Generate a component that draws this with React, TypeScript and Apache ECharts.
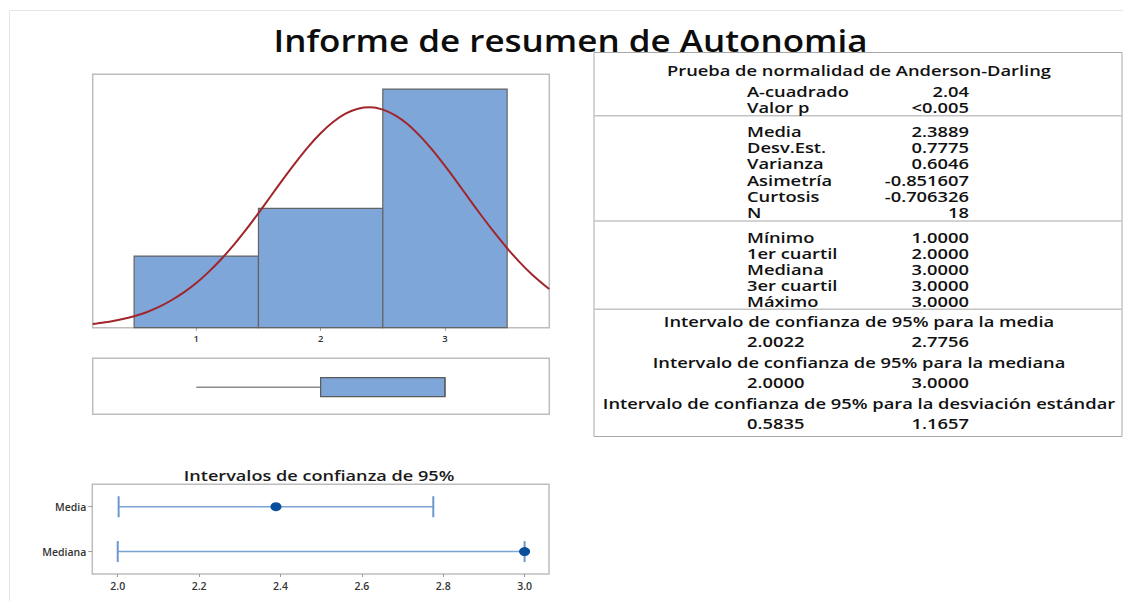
import React, { useEffect, useRef } from 'react';
import * as echarts from 'echarts';

// ---------- data ----------
const binStart = [0.5, 1.5, 2.5];
const binEnd = [1.5, 2.5, 3.5];
const binCount = [3, 5, 10];
const histTicks = [1, 2, 3];

// fitted normal curve
const curveX = [
  0.167, 0.2, 0.3, 0.4, 0.5, 0.6, 0.7, 0.8, 0.9, 1.0, 1.1, 1.2, 1.3, 1.4, 1.5, 1.6, 1.7, 1.8, 1.9, 2.0,
  2.1, 2.2, 2.3, 2.4, 2.5, 2.6, 2.7, 2.8, 2.9, 3.0, 3.1, 3.2, 3.3, 3.4, 3.5, 3.6, 3.7, 3.8, 3.839,
];
const curveY = [
  0.155, 0.176, 0.25, 0.35, 0.48, 0.65, 0.87, 1.15, 1.48, 1.87, 2.34, 2.87, 3.46, 4.11, 4.8, 5.52, 6.24, 6.93, 7.58, 8.15,
  8.62, 8.97, 9.18, 9.24, 9.14, 8.9, 8.53, 8.03, 7.44, 6.78, 6.08, 5.36, 4.65, 3.97, 3.33, 2.75, 2.23, 1.78, 1.62,
];

// box plot: min, Q1, median, Q3, max
const boxStats = [1, 2, 3, 3, 3];

// confidence intervals
const ciNames = ['Media', 'Mediana'];
const ciLow = [2.0022, 2.0];
const ciHigh = [2.7756, 3.0];
const ciEst = [2.3889, 3.0];
const ciTicks = [2.0, 2.2, 2.4, 2.6, 2.8, 3.0];

// summary table
const adTitle = 'Prueba de normalidad de Anderson-Darling';
const adLabels = ['A-cuadrado', 'Valor p'];
const adValues = ['2.04', '<0.005'];
const descLabels = ['Media', 'Desv.Est.', 'Varianza', 'Asimetría', 'Curtosis', 'N'];
const descValues = ['2.3889', '0.7775', '0.6046', '-0.851607', '-0.706326', '18'];
const quantLabels = ['Mínimo', '1er cuartil', 'Mediana', '3er cuartil', 'Máximo'];
const quantValues = ['1.0000', '2.0000', '3.0000', '3.0000', '3.0000'];
const ciTitles = [
  'Intervalo de confianza de 95% para la media',
  'Intervalo de confianza de 95% para la mediana',
  'Intervalo de confianza de 95% para la desviación estándar',
];
const ciLowText = ['2.0022', '2.0000', '0.5835'];
const ciHighText = ['2.7756', '3.0000', '1.1657'];

const mainTitle = 'Informe de resumen de Autonomia';
const ciChartTitle = 'Intervalos de confianza de 95%';

// ---------- styles ----------
const FONT = '"Open Sans", "Noto Sans", sans-serif';
const BAR_FILL = '#7ea6d8';
const BAR_STROKE = '#646464';
const CURVE = '#a1262b';
const FRAME = '#bdbdbd';
const CI_LINE = '#7aa3d6';
const CI_DOT = '#0a4f9c';
const TXT = '#111111';

function txt(x: number, y: number, text: string, align: string, size: number, sx: number, weight: any = 600, fill = TXT): any {
  return {
    type: 'text',
    x,
    y,
    scaleX: sx,
    silent: true,
    style: {
      text,
      x: 0,
      y: 0,
      fontSize: size,
      fontFamily: FONT,
      fontWeight: weight,
      fill,
      align,
      textAlign: align,
      verticalAlign: 'middle',
      textVerticalAlign: 'middle',
    },
  };
}

function buildGraphic(): any[] {
  const els: any[] = [];
  // faint outer frame
  els.push({ type: 'line', silent: true, shape: { x1: 9.5, y1: 10.5, x2: 1123, y2: 10.5 }, style: { stroke: '#e6e6e6', lineWidth: 1 } });
  els.push({ type: 'line', silent: true, shape: { x1: 9.5, y1: 10.5, x2: 9.5, y2: 601 }, style: { stroke: '#e6e6e6', lineWidth: 1 } });

  // main title
  els.push(txt(570.5, 40, mainTitle, 'center', 31, 1.13, 600, '#0d0d0d'));
  // CI chart title
  els.push(txt(319, 475, ciChartTitle, 'center', 15, 1.21, 600, '#1a1a1a'));

  // table frame
  const tL = 594, tR = 1122, tT = 52.5, tB = 436.5;
  els.push({ type: 'rect', silent: true, shape: { x: tL, y: tT, width: tR - tL, height: tB - tT }, style: { fill: 'none', stroke: '#a9a9a9', lineWidth: 1 } });
  [115.7, 221, 309.3].forEach((y) => {
    els.push({ type: 'line', silent: true, shape: { x1: tL, y1: y, x2: tR, y2: y }, style: { stroke: '#c4c4c4', lineWidth: 1.5 } });
  });

  const LX = 747, VX = 969, CX = 859, SX = 1.31, FS = 14;
  els.push(txt(CX, 71, adTitle, 'center', FS, SX));
  adLabels.forEach((l, i) => {
    els.push(txt(LX, 91.5 + i * 16, l, 'left', FS, SX));
    els.push(txt(VX, 91.5 + i * 16, adValues[i], 'right', FS, SX));
  });
  descLabels.forEach((l, i) => {
    els.push(txt(LX, 131.5 + i * 16.3, l, 'left', FS, SX));
    els.push(txt(VX, 131.5 + i * 16.3, descValues[i], 'right', FS, SX));
  });
  quantLabels.forEach((l, i) => {
    els.push(txt(LX, 237.5 + i * 16, l, 'left', FS, SX));
    els.push(txt(VX, 237.5 + i * 16, quantValues[i], 'right', FS, SX));
  });
  ciTitles.forEach((t, i) => {
    els.push(txt(CX, 322 + i * 41, t, 'center', FS, SX));
    els.push(txt(LX, 341.5 + i * 41, ciLowText[i], 'left', FS, SX));
    els.push(txt(VX, 341.5 + i * 41, ciHighText[i], 'right', FS, SX));
  });
  return els;
}

function buildOption(): any {
  const histData = binStart.map((s, i) => [s, binEnd[i], binCount[i]]);
  const curveData = curveX.map((x, i) => [x, curveY[i]]);
  const ciCats = ciNames.slice().reverse();
  const ciData = ciNames.map((n, i) => [ciLow[i], ciHigh[i], n]);
  const estData = ciNames.map((n, i) => [ciEst[i], n]);

  const gridBase = { show: true, borderColor: FRAME, borderWidth: 1.5, backgroundColor: 'transparent', containLabel: false };

  return {
    animation: false,
    backgroundColor: '#ffffff',
    textStyle: { fontFamily: FONT },
    grid: [
      { ...gridBase, left: 92.7, top: 74.3, width: 456.6, height: 253.4 },
      { ...gridBase, left: 92.7, top: 358.3, width: 456.6, height: 56 },
      { ...gridBase, left: 92.3, top: 484.3, width: 456.7, height: 89.7 },
    ],
    xAxis: [
      {
        type: 'value', gridIndex: 0, min: 0.167, max: 3.839,
        axisLine: { show: false }, splitLine: { show: false },
        axisTick: { show: true, customValues: histTicks, length: 3, lineStyle: { color: '#9a9a9a' } },
        axisLabel: { show: true, customValues: histTicks, fontSize: 9.5, fontWeight: 600, color: '#333', margin: 6, fontFamily: FONT },
      },
      {
        type: 'value', gridIndex: 1, min: 0.167, max: 3.839,
        axisLine: { show: false }, splitLine: { show: false }, axisTick: { show: false }, axisLabel: { show: false },
      },
      {
        type: 'value', gridIndex: 2, min: 1.9375, max: 3.06,
        axisLine: { show: false }, splitLine: { show: false },
        axisTick: { show: true, customValues: ciTicks, length: 3, lineStyle: { color: '#9a9a9a' } },
        axisLabel: {
          show: true, customValues: ciTicks, fontSize: 10.5, fontWeight: 600, color: '#333', margin: 6, fontFamily: FONT,
          formatter: (v: number) => v.toFixed(1),
        },
      },
    ],
    yAxis: [
      { type: 'value', gridIndex: 0, min: 0, max: 10.62, show: false },
      { type: 'value', gridIndex: 1, min: 0, max: 1, show: false },
      {
        type: 'category', gridIndex: 2, data: ciCats,
        axisLine: { show: false }, splitLine: { show: false },
        axisTick: { show: true, alignWithLabel: true, length: 4, lineStyle: { color: '#9a9a9a' } },
        axisLabel: { fontSize: 10.5, fontWeight: 600, color: '#333', margin: 6, fontFamily: FONT },
      },
    ],
    series: [
      {
        type: 'custom', xAxisIndex: 0, yAxisIndex: 0, data: histData,
        encode: { x: [0, 1], y: 2 },
        renderItem: (params: any, api: any) => {
          const p0 = api.coord([api.value(0), 0]);
          const p1 = api.coord([api.value(1), api.value(2)]);
          return {
            type: 'rect',
            shape: { x: p0[0], y: p1[1], width: p1[0] - p0[0], height: p0[1] - p1[1] },
            style: { fill: BAR_FILL, stroke: BAR_STROKE, lineWidth: 1.2 },
          };
        },
        z: 2,
      },
      {
        type: 'line', xAxisIndex: 0, yAxisIndex: 0, data: curveData, smooth: 0.2,
        showSymbol: false, symbol: 'none', lineStyle: { color: CURVE, width: 2 }, z: 5, clip: true,
      },
      {
        type: 'custom', xAxisIndex: 1, yAxisIndex: 1, data: [boxStats],
        encode: { x: [0, 1, 2, 3, 4] },
        renderItem: (params: any, api: any) => {
          const mn = api.value(0), q1 = api.value(1), md = api.value(2), q3 = api.value(3), mx = api.value(4);
          const yc = 0.484, yt = 0.654, yb = 0.314;
          const a = api.coord([mn, yc]);
          const b = api.coord([q1, yc]);
          const c = api.coord([q3, yc]);
          const d = api.coord([mx, yc]);
          const bt = api.coord([q1, yt]);
          const bb = api.coord([q3, yb]);
          const mt = api.coord([md, yt]);
          const mb = api.coord([md, yb]);
          return {
            type: 'group',
            children: [
              { type: 'line', shape: { x1: a[0], y1: a[1], x2: b[0], y2: b[1] }, style: { stroke: '#8c8c8c', lineWidth: 1.5 } },
              { type: 'line', shape: { x1: c[0], y1: c[1], x2: d[0], y2: d[1] }, style: { stroke: '#8c8c8c', lineWidth: 1.5 } },
              { type: 'rect', shape: { x: bt[0], y: bt[1], width: bb[0] - bt[0], height: bb[1] - bt[1] }, style: { fill: BAR_FILL, stroke: '#5a5a5a', lineWidth: 1.2 } },
              { type: 'line', shape: { x1: mt[0], y1: mt[1], x2: mb[0], y2: mb[1] }, style: { stroke: '#5a5a5a', lineWidth: 1.2 } },
            ],
          };
        },
      },
      {
        type: 'custom', xAxisIndex: 2, yAxisIndex: 2, data: ciData,
        encode: { x: [0, 1], y: 2 },
        renderItem: (params: any, api: any) => {
          const lo = api.coord([api.value(0), api.value(2)]);
          const hi = api.coord([api.value(1), api.value(2)]);
          const h = 10.5;
          return {
            type: 'group',
            children: [
              { type: 'line', shape: { x1: lo[0], y1: lo[1], x2: hi[0], y2: hi[1] }, style: { stroke: CI_LINE, lineWidth: 1.5 } },
              { type: 'line', shape: { x1: lo[0], y1: lo[1] - h, x2: lo[0], y2: lo[1] + h }, style: { stroke: '#6b98d0', lineWidth: 2 } },
              { type: 'line', shape: { x1: hi[0], y1: hi[1] - h, x2: hi[0], y2: hi[1] + h }, style: { stroke: '#6b98d0', lineWidth: 2 } },
            ],
          };
        },
      },
      {
        type: 'scatter', xAxisIndex: 2, yAxisIndex: 2, data: estData,
        symbol: 'circle', symbolSize: [11, 9], itemStyle: { color: CI_DOT, opacity: 1 }, z: 5, clip: false,
      },
    ],
    graphic: { elements: buildGraphic() },
  };
}

export default function App() {
  const ref = useRef<HTMLDivElement>(null);
  useEffect(() => {
    if (!ref.current) return;
    const chart = echarts.init(ref.current, null, { renderer: 'svg' });
    chart.setOption(buildOption());
    return () => chart.dispose();
  }, []);
  return (
    <div
      ref={ref}
      style={{ position: 'absolute', left: 0, top: 0, width: 1123, height: 601, background: '#ffffff' }}
    />
  );
}
